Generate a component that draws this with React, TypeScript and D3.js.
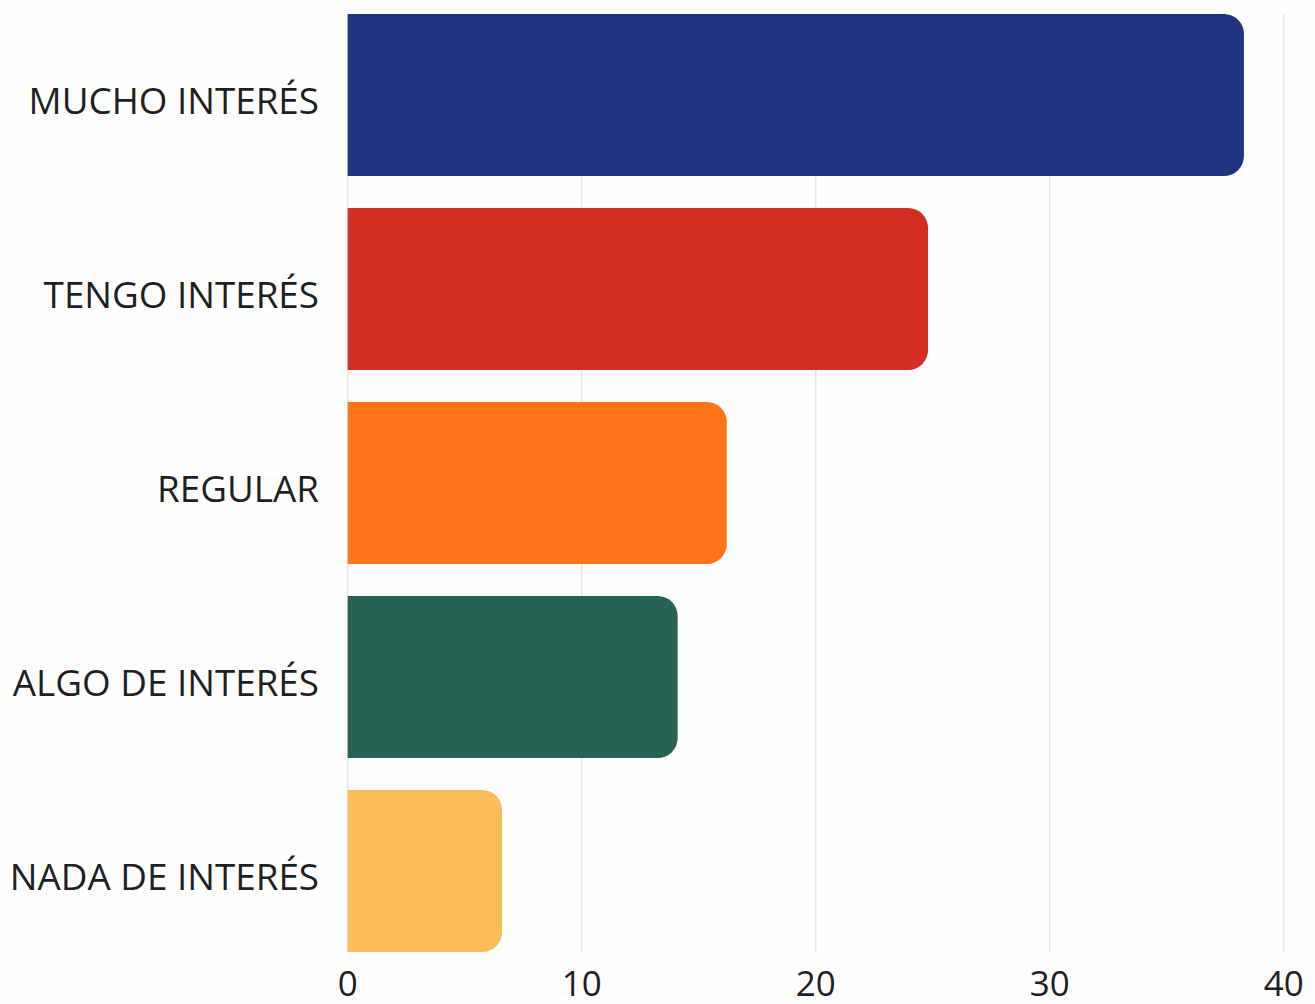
import React from "react";
import * as d3 from "d3";

const categories = ["MUCHO INTERÉS", "TENGO INTERÉS", "REGULAR", "ALGO DE INTERÉS", "NADA DE INTERÉS"];
const values = [38.3, 24.8, 16.2, 14.1, 6.6];
const colors = ["#1e347f", "#d42e24", "#fd7419", "#276252", "#fdbb5a"];
const xTicks = [0, 10, 20, 30, 40];

const W = 1315;
const H = 1004;
const FONT = "'Open Sans', 'Noto Sans', sans-serif";

function barPath(x0: number, x1: number, y0: number, h: number, r: number) {
  const rr = Math.min(r, (x1 - x0), h / 2);
  return `M${x0},${y0}H${x1 - rr}A${rr},${rr} 0 0 1 ${x1},${y0 + rr}V${y0 + h - rr}A${rr},${rr} 0 0 1 ${x1 - rr},${y0 + h}H${x0}Z`;
}

export default function App() {
  const x = d3.scaleLinear().domain([0, 40]).range([347.7, 1283.7]);
  const y = d3.scaleBand<string>().domain(categories).range([14, 952]).paddingInner(32 / 194).paddingOuter(0);
  const [gy0, gy1] = y.range();
  return (
    <svg width={W} height={H} style={{ position: "absolute", left: 0, top: 0, display: "block", background: "#fefefe" }}>
      {xTicks.map((t) => (
        <line key={"g" + t} x1={x(t)} x2={x(t)} y1={gy0} y2={gy1} stroke="#e6e6e6" strokeWidth={1.5} />
      ))}
      {categories.map((c, i) => (
        <path key={c} d={barPath(x(0), x(values[i]), y(c)!, y.bandwidth(), 20)} fill={colors[i]} />
      ))}
      {categories.map((c) => (
        <text key={"l" + c} x={319} y={y(c)! + y.bandwidth() / 2 + 19} textAnchor="end" fontFamily={FONT} fontSize={36.8} fill="#1f1f1f">
          {c}
        </text>
      ))}
      {xTicks.map((t) => (
        <text key={"t" + t} x={x(t)} y={996} textAnchor="middle" fontFamily={FONT} fontSize={35} fill="#1f1f1f">
          {t}
        </text>
      ))}
    </svg>
  );
}
